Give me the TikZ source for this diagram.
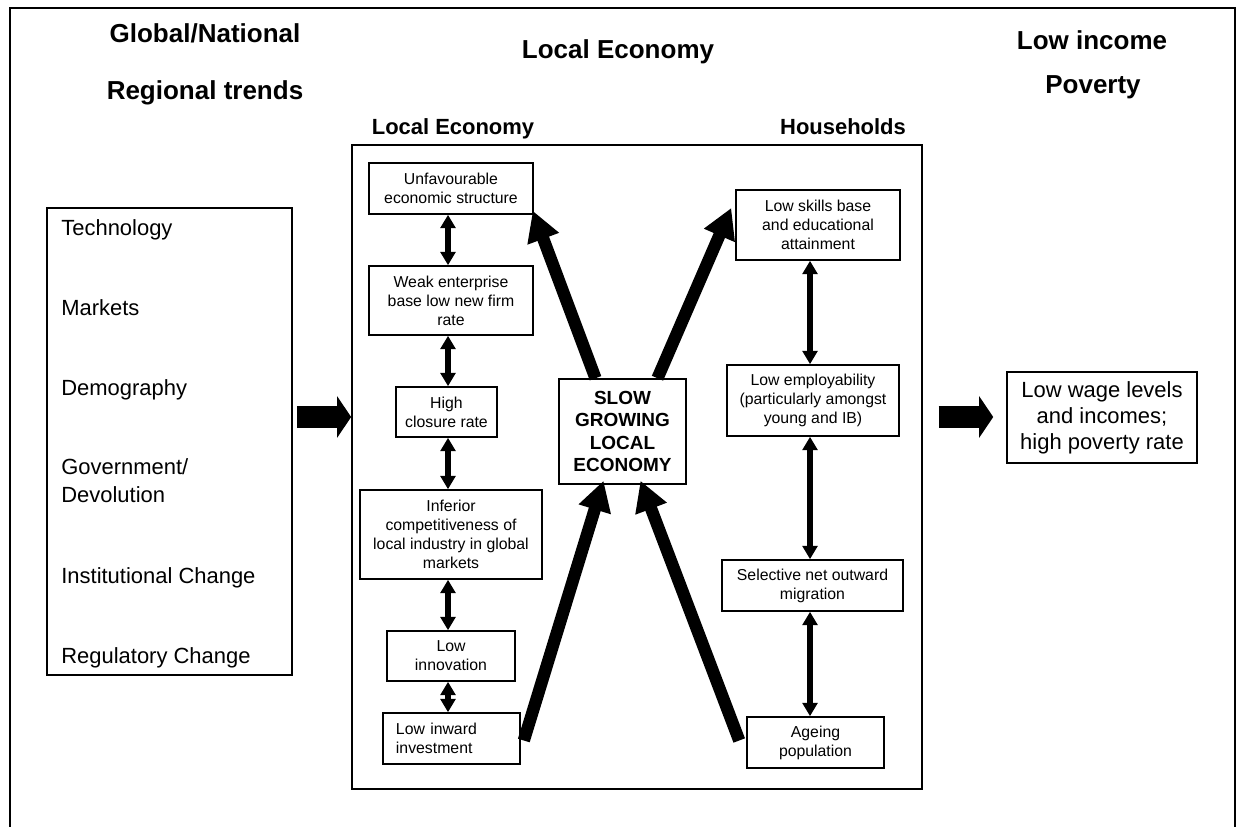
\documentclass[tikz,border=0pt]{standalone}
\usepackage{fontspec}
\setmainfont{Liberation Sans}
\usetikzlibrary{calc,positioning,arrows.meta}
\newcommand{\px}{0.56906pt}

\begin{document}
\begin{tikzpicture}[
	%	style def
    x=0.02cm, y=-0.02cm,
    heading/.style={font=\fontsize{14.8}{17}\selectfont\bfseries, anchor=base},
    sub heading/.style={font=\fontsize{12.5}{15}\selectfont\bfseries, anchor=base},
    trend/.style={font=\fontsize{12.5}{15.4}\selectfont, anchor=base west, align=left, inner sep=0pt},
    box size/.style 2 args={minimum width=#1*\px, minimum height=#2*\px},
    small box/.style={draw, line width=0.9pt, align=center, inner sep=0pt, font=\fontsize{9}{10.8}\selectfont},
    frame box/.style={draw, line width=1pt, inner sep=0pt},
    link/.style={line width=3.7pt, {Triangle[length=7.6pt,width=8.4pt]}-{Triangle[length=7.6pt,width=8.4pt]}},
    big link/.style={line width=7pt, -{Triangle[length=17pt,width=18pt]}},
    block arrow/.style={line width=12pt, -{Triangle[length=8pt,width=23.3pt]}},
    every node/.style={color=black}
    ]
    \useasboundingbox (0,0) rectangle (1240,827);

	% outer frame, open at the foot
    \draw[line width=1.1pt] (10,827) -- (10,8) -- (1235,8) -- (1235,827);

	% headings
    \node[heading] (glob) at (205,43) {Global/National};
    \node[heading] (regio) at (205,100) {Regional trends};
    \node[heading] (title) at (618,59) {Local Economy};
    \node[heading] (lowinc) at (1092,50) {Low income};
    \node[heading] (pov) at (1093,94) {Poverty};
    \node[sub heading] (econlabel) at (453,135) {Local Economy};
    \node[sub heading] (houselabel) at (843,135) {Households};

	% trends list
    \node[frame box, box size={245}{467}] (trends) at (169.5,441.5) {};
    \node[trend] (tech) at (61,236) {Technology};
    \node[trend] (markets) at (61,316) {Markets};
    \node[trend] (demo) at (61,395) {Demography};
    \node[trend] (gov) at (61,502) {Government/\\Devolution};
    \node[trend] (inst) at (61,583) {Institutional Change};
    \node[trend] (regul) at (61,663) {Regulatory Change};

	% local economy box
    \node[frame box, box size={570}{644}] (econ) at (637,467) {};

    \node[small box, box size={164}{51}] (unfav) at (451,188.5) {Unfavourable\\economic structure};
    \node[small box, box size={164}{69}] (weak) at (451,300.5) {Weak enterprise\\base low new firm\\rate};
    \node[small box, box size={101}{50}] (closure) at (446.5,412) {High\\closure rate};
    \node[small box, box size={182}{89}] (inferior) at (451,534.5) {Inferior\\competitiveness of\\local industry in global\\markets};
    \node[small box, box size={128}{50}] (innov) at (451,656) {Low\\innovation};
    \node[small box, align=left, text width=63.2pt, inner xsep=7.4pt, minimum height=51*\px] (inward) at (451.5,738.5) {Low inward\\investment};

    \node[small box, box size={127}{105}, font=\fontsize{10.8}{12.7}\selectfont\bfseries] (slow) at (622.5,431.5) {SLOW\\GROWING\\LOCAL\\ECONOMY};

    \node[small box, box size={164}{70}] (skills) at (818,225) {Low skills base\\and educational\\attainment};
    \node[small box, box size={172}{71}] (employ) at (813,400.5) {Low employability\\(particularly amongst\\young and IB)};
    \node[small box, box size={181}{51}] (migr) at (812.5,585.5) {Selective net outward\\migration};
    \node[small box, box size={137}{51}] (ageing) at (815.5,742.5) {Ageing\\population};

	% result
    \node[small box, box size={190}{91}, font=\fontsize{12.5}{14.8}\selectfont] (wages) at (1102,417.5) {Low wage levels\\and incomes;\\high poverty rate};

	% links in the two columns
    \coordinate (lcol) at (448,0);
    \coordinate (rcol) at (810,0);
    \foreach \a/\b in {unfav/weak, weak/closure, closure/inferior, inferior/innov, innov/inward}
        \draw[link] (\a.south -| lcol) -- (\b.north -| lcol);
    \foreach \a/\b in {skills/employ, employ/migr, migr/ageing}
        \draw[link] (\a.south -| rcol) -- (\b.north -| rcol);

	% links to and from the slow growing economy
    \draw[big link] ($(slow.north)+(-27,0)$) -- ($(unfav.south east)+(-1,-4)$);
    \draw[big link] ($(slow.north)+(35,0)$) -- ($(skills.west)+(-4,-17)$);
    \draw[big link] ($(inward.east)+(3,2)$) -- ($(slow.south)+(-19,-4)$);
    \draw[big link] ($(ageing.west)+(-7,-2)$) -- ($(slow.south)+(18,-4)$);

	% block arrows
    \coordinate (flow) at (0,417);
    \draw[block arrow, shorten <=2.3pt] (trends.east |- flow) -- (econ.west |- flow);
    \draw[block arrow, shorten <=9pt, shorten >=7.4pt] (econ.east |- flow) -- (wages.west |- flow);
\end{tikzpicture}
\end{document}
